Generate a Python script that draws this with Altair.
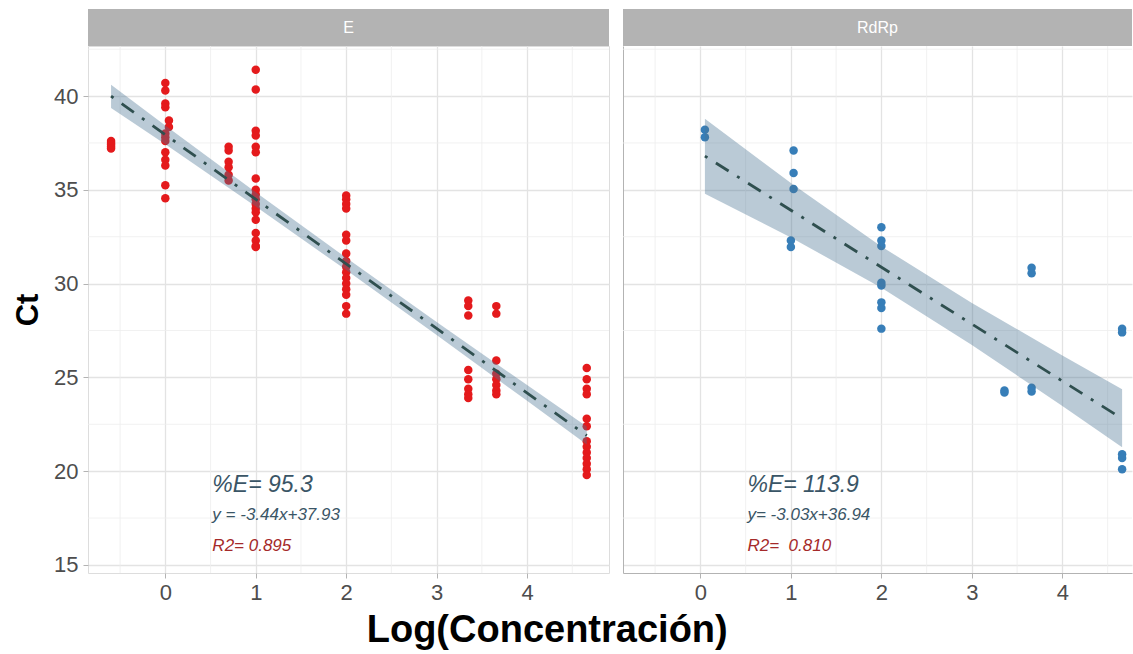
import altair as alt
import pandas as pd

FONT = "Liberation Sans"

# ---------------- data ----------------
# E gene: Ct values grouped by Log(concentration)
e_points = {
    -0.6: [37.6, 37.5, 37.4, 37.3, 37.2],
    0.0: [40.7, 40.3, 39.6, 39.4, 38.0, 37.8, 37.6, 37.0, 36.6, 36.3, 35.25, 34.55],
    0.04: [38.7, 38.35],
    0.7: [37.3, 37.1, 36.5, 36.2, 35.8, 35.5],
    1.0: [41.4, 40.35, 38.15, 37.9, 37.3, 37.0, 35.6, 35.0, 34.75, 34.5, 34.25,
          34.0, 33.8, 33.4, 32.7, 32.3, 32.0, 31.95],
    2.0: [34.7, 34.5, 34.25, 34.0, 32.6, 32.3, 31.6, 31.2, 30.9, 30.6, 30.3,
          30.0, 29.7, 29.4, 28.8, 28.4],
    3.35: [29.1, 28.8, 28.3, 25.4, 24.9, 24.4, 24.1, 23.9],
    3.66: [28.8, 28.4, 25.9, 25.2, 24.9, 24.6, 24.3, 24.1],
    4.66: [25.5, 24.9, 24.4, 24.1, 22.8, 22.4, 21.6, 21.3, 21.0, 20.7, 20.4,
           20.1, 19.8],
}
# RdRp gene
r_points = {
    0.05: [38.2, 37.8],
    1.03: [37.1, 35.9, 35.05],
    1.0: [32.3, 31.95],
    2.0: [33.0, 32.3, 32.0, 30.05, 29.9, 29.0, 28.7, 27.6],
    3.36: [24.3, 24.2],
    3.66: [30.85, 30.55, 24.45, 24.25],
    4.66: [27.6, 27.4, 20.9, 20.7, 20.1],
}

# fitted lines (end points) and confidence bands
e_fit_x = [-0.6, 4.66]
e_fit_y = [40.0, 21.9]
e_band_x = [-0.6, 0, 1, 2, 3, 4, 4.66]
e_band_lo = [39.37, 37.43, 34.11, 30.72, 27.26, 23.75, 21.42]
e_band_hi = [40.61, 38.43, 34.87, 31.38, 27.96, 24.59, 22.38]

r_fit_x = [0.05, 4.66]
r_fit_y = [36.8, 22.8]
r_band_x = [0.05, 1, 2, 3, 4, 4.66]
r_band_lo = [34.79, 32.46, 29.78, 26.73, 23.47, 21.27]
r_band_hi = [38.79, 35.36, 31.98, 28.97, 26.17, 24.37]

panels = ["E", "RdRp"]
e_ann = ["%E= 95.3", "y = -3.44x+37.93", "R2= 0.895"]
r_ann = ["%E= 113.9", "y= -3.03x+36.94", "R2=\u00a0 0.810"]

x_ticks = [0, 1, 2, 3, 4]
y_ticks = [15, 20, 25, 30, 35, 40]
x_minor = [-0.5, 0.5, 1.5, 2.5, 3.5, 4.5]
y_minor = [17.5, 22.5, 27.5, 32.5, 37.5, 42.5]

# ---------------- style ----------------
GRID = "#E3E3E3"
GRID_MINOR = "#EEEEEE"
BORDER = "#B3B3B3"
LABEL = "#4D4D4D"
BAND = "#4A7394"
LINE = "#2F4F4F"
TXT = "#3A5566"
R2C = "#A52A2A"
H = 527
W_L = 521
W_R = 509
Y_DOM = [14.57, 42.67]


def to_df(groups):
    xs, ys = [], []
    for k, vals in groups.items():
        for v in vals:
            xs.append(k)
            ys.append(v)
    return pd.DataFrame({"x": xs, "ct": ys})


def panel(label, groups, fx, fy, bx, blo, bhi, ann, color, width, xdom, first):
    xs = alt.Scale(domain=xdom, nice=False, zero=False)
    ys = alt.Scale(domain=Y_DOM, nice=False, zero=False)

    xaxis = alt.Axis(values=x_ticks, grid=True, gridColor=GRID, gridWidth=1.3,
                     ticks=True, tickSize=5, tickColor=BORDER, labelFontSize=22,
                     labelColor=LABEL, labelFont=FONT, labelPadding=4,
                     domain=(not first), domainColor=BORDER, domainWidth=1,
                     format="d")
    if first:
        yaxis = alt.Axis(values=y_ticks, grid=True, gridColor=GRID, gridWidth=1.3,
                         ticks=True, tickSize=5, tickColor=BORDER, labelFontSize=22,
                         labelColor=LABEL, labelFont=FONT, labelPadding=5,
                         domain=False, titleFontSize=31, titleFont=FONT,
                         titleFontWeight="bold", titleColor="black",
                         titlePadding=9)
    else:
        yaxis = alt.Axis(values=y_ticks, grid=True, gridColor=GRID, gridWidth=1.3,
                         ticks=False, labels=False, domain=True,
                         domainColor=BORDER, domainWidth=1)

    def X(field):
        return alt.X(field, scale=xs, axis=xaxis, title=None)

    def Y(field):
        if first:
            return alt.Y(field, scale=ys, axis=yaxis, title="Ct")
        return alt.Y(field, scale=ys, axis=yaxis, title=None)

    minor_x = alt.Chart(pd.DataFrame({"mx": x_minor})).mark_rule(
        color=GRID_MINOR, strokeWidth=0.8).encode(x=X("mx:Q"))
    minor_y = alt.Chart(pd.DataFrame({"my": y_minor})).mark_rule(
        color=GRID_MINOR, strokeWidth=0.8).encode(y=Y("my:Q"))

    pts = alt.Chart(to_df(groups)).mark_circle(size=72, opacity=1, color=color).encode(
        x=X("x:Q"), y=Y("ct:Q"))
    band = alt.Chart(pd.DataFrame({"x": bx, "lo": blo, "hi": bhi})).mark_area(
        color=BAND, opacity=0.38).encode(x=X("x:Q"), y=Y("lo:Q"), y2="hi:Q")
    line = alt.Chart(pd.DataFrame({"x": fx, "y": fy})).mark_line(
        color=LINE, strokeWidth=2.8, strokeDash=[3, 10, 15, 10]).encode(
        x=X("x:Q"), y=Y("y:Q"))

    # annotation anchor (data units)
    adf = pd.DataFrame({"t": ann, "ax": [0.52, 0.52, 0.52], "ay": [18.89, 17.40, 15.75]})

    def ann_layer(i, size, col):
        return alt.Chart(adf.iloc[[i]]).mark_text(
            align="left", baseline="alphabetic", fontStyle="italic",
            fontSize=size, color=col, font=FONT).encode(
            x=X("ax:Q"), y=Y("ay:Q"), text="t:N")

    t1 = ann_layer(0, 23, TXT)
    t2 = ann_layer(1, 17, TXT)
    t3 = ann_layer(2, 17, R2C)

    sdf = pd.DataFrame({"panel": [label]})
    strip = alt.Chart(sdf).mark_rect(color=BORDER).encode(
        x=alt.value(0), x2=alt.value(width), y=alt.value(-37), y2=alt.value(0))
    strip_t = alt.Chart(sdf).mark_text(color="white", fontSize=16, font=FONT,
                                        baseline="middle").encode(
        x=alt.value(width / 2), y=alt.value(-18.5), text="panel:N")

    layer = alt.layer(minor_x, minor_y, pts, band, line, t1, t2, t3, strip, strip_t)
    if first:
        return layer.properties(width=width, height=H)
    return layer.properties(width=width, height=H,
                            view=alt.ViewBackground(strokeWidth=0))


left = panel(panels[0], e_points, e_fit_x, e_fit_y, e_band_x, e_band_lo, e_band_hi,
             e_ann, "#E41A1C", W_L, [-0.855, 4.906], True)
right = panel(panels[1], r_points, r_fit_x, r_fit_y, r_band_x, r_band_lo, r_band_hi,
              r_ann, "#377EB8", W_R, [-0.855, -0.855 + W_R / 90.5], False)

chart = alt.hconcat(left, right, spacing=12).properties(
    padding={"left": 12, "top": 8, "right": 0, "bottom": 0},
    title=alt.TitleParams("Log(Concentración)", orient="bottom", anchor="middle",
                          fontSize=38, font=FONT, fontWeight="bold", color="black",
                          offset=8, dx=-25),
).configure_view(stroke=BORDER, strokeWidth=1).configure(background="white")

chart.save("out.html", embed_options={"renderer": "svg", "actions": False})
